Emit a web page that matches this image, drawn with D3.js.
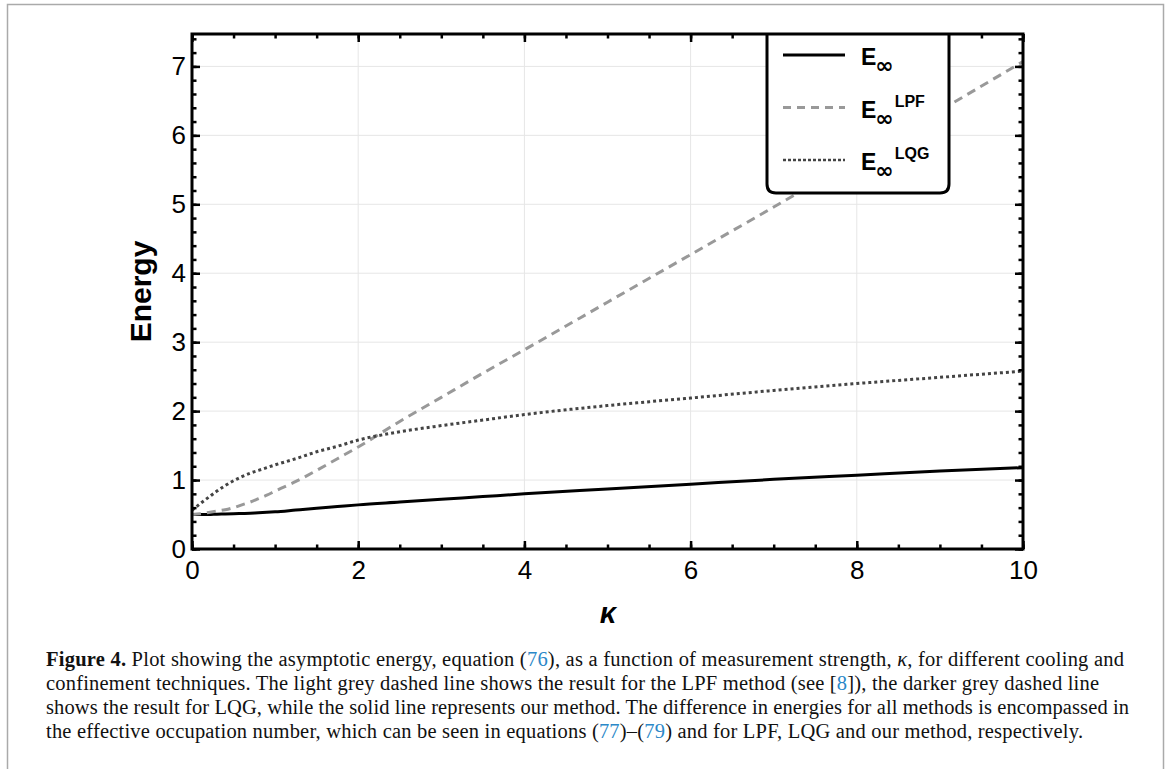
<!DOCTYPE html>
<html>
<head>
<meta charset="utf-8">
<script src="https://cdn.jsdelivr.net/npm/d3@7"></script>
<style>
  body { margin: 0; background: #fff; }
  svg { display: block; }
</style>
</head>
<body>
<svg id="chart" width="1170" height="769"></svg>
<script>
// data
let kappa   = [0, 0.1, 0.2, 0.3, 0.4, 0.5, 0.6, 0.7, 0.8, 0.9, 1, 1.25, 1.5, 1.75, 2, 2.5, 3, 3.5, 4, 5, 6, 7, 8, 9, 10]
let eInf    = [0.50, 0.50, 0.50, 0.505, 0.507, 0.51, 0.515, 0.52, 0.527, 0.533, 0.54, 0.565, 0.59, 0.615, 0.64, 0.68, 0.72, 0.76, 0.80, 0.87, 0.94, 1.01, 1.07, 1.13, 1.18]
let eLPF    = [0.50, 0.51, 0.53, 0.55, 0.57, 0.60, 0.64, 0.68, 0.73, 0.78, 0.84, 0.98, 1.14, 1.31, 1.48, 1.85, 2.20, 2.55, 2.89, 3.58, 4.27, 4.96, 5.66, 6.36, 7.07]
let eLQG    = [0.56, 0.66, 0.75, 0.84, 0.92, 0.99, 1.05, 1.10, 1.14, 1.18, 1.22, 1.31, 1.41, 1.49, 1.58, 1.70, 1.79, 1.87, 1.95, 2.08, 2.19, 2.30, 2.40, 2.49, 2.58]
let xTicks  = [0, 2, 4, 6, 8, 10]
let yTicks  = [0, 1, 2, 3, 4, 5, 6, 7]
let legendNames = ['', 'LPF', 'LQG']

// layout
let svg = d3.select('#chart')
let pLeft = 192, pRight = 1023, pTop = 34, pBottom = 549

let x = d3.scaleLinear().domain([0, 10]).range([pLeft, pRight])
let y = d3.scaleLinear().domain([0, 7.47]).range([pBottom, pTop])

// page frame
svg.append('path')
  .attr('d', 'M7.5,769 V4.5 H1163.5 V769')
  .attr('fill', 'none')
  .attr('stroke', '#aaa')
  .attr('stroke-width', 1.5)

// grid
svg.append('g').selectAll('line')
  .data(xTicks.slice(1, -1))
  .join('line')
  .attr('x1', d => x(d)).attr('x2', d => x(d))
  .attr('y1', pTop).attr('y2', pBottom)
  .attr('stroke', '#e6e6e6').attr('stroke-width', 1)

svg.append('g').selectAll('line')
  .data(yTicks.slice(1))
  .join('line')
  .attr('x1', pLeft).attr('x2', pRight)
  .attr('y1', d => y(d)).attr('y2', d => y(d))
  .attr('stroke', '#e6e6e6').attr('stroke-width', 1)

// curves
svg.append('clipPath').attr('id', 'clip')
  .append('rect').attr('x', pLeft).attr('y', pTop)
  .attr('width', pRight - pLeft).attr('height', pBottom - pTop)

let line = d3.line().curve(d3.curveMonotoneX)

let series = [
  {vals: eInf, color: '#000', dash: null},
  {vals: eLPF, color: '#999', dash: '9,6'},
  {vals: eLQG, color: '#444', dash: '3,3'}
]

let plot = svg.append('g').attr('clip-path', 'url(#clip)')
series.forEach(s => {
  plot.append('path')
    .attr('d', line(kappa.map((k, i) => [x(k), y(s.vals[i])])))
    .attr('fill', 'none')
    .attr('stroke', s.color)
    .attr('stroke-width', 3)
    .attr('stroke-dasharray', s.dash)
})

// axes (ticks pointing inward)
function styleAxis(g) {
  g.select('.domain').remove()
  g.selectAll('.tick line').attr('stroke', '#000').attr('stroke-width', 2.5)
  g.selectAll('text').attr('font-family', 'Liberation Sans, Arial, sans-serif')
    .attr('font-size', 26).attr('fill', '#000')
}
let xMinor = d3.range(0, 10.01, 0.5)
let yMinor = d3.range(0, 7.41, 0.2)

svg.append('g').attr('transform', `translate(0,${pBottom})`)
  .call(d3.axisBottom(x).tickValues(xMinor).tickSize(-4.5).tickFormat(''))
  .call(styleAxis)
svg.append('g').attr('transform', `translate(0,${pBottom})`)
  .call(d3.axisBottom(x).tickValues(xTicks).tickSize(-8).tickPadding(12).tickFormat(d3.format('d')))
  .call(styleAxis)
svg.append('g').attr('transform', `translate(0,${pTop})`)
  .call(d3.axisTop(x).tickValues(xMinor).tickSize(-4.5).tickFormat(''))
  .call(styleAxis)
svg.append('g').attr('transform', `translate(0,${pTop})`)
  .call(d3.axisTop(x).tickValues(xTicks).tickSize(-8).tickFormat(''))
  .call(styleAxis)

svg.append('g').attr('transform', `translate(${pLeft},0)`)
  .call(d3.axisLeft(y).tickValues(yMinor).tickSize(-4.5).tickFormat(''))
  .call(styleAxis)
svg.append('g').attr('transform', `translate(${pLeft},0)`)
  .call(d3.axisLeft(y).tickValues(yTicks).tickSize(-8).tickPadding(6).tickFormat(d3.format('d')))
  .call(styleAxis)
svg.append('g').attr('transform', `translate(${pRight},0)`)
  .call(d3.axisRight(y).tickValues(yMinor).tickSize(-4.5).tickFormat(''))
  .call(styleAxis)
svg.append('g').attr('transform', `translate(${pRight},0)`)
  .call(d3.axisRight(y).tickValues(yTicks).tickSize(-8).tickFormat(''))
  .call(styleAxis)

// legend box (open at top, sits on the frame)
let lx0 = 767, lx1 = 949, ly1 = 193, r = 9
let legend = svg.append('g')
legend.append('path')
  .attr('d', `M${lx0},${pTop} V${ly1 - r} Q${lx0},${ly1} ${lx0 + r},${ly1} H${lx1 - r} Q${lx1},${ly1} ${lx1},${ly1 - r} V${pTop}`)
  .attr('fill', '#fff')
  .attr('stroke', '#000')
  .attr('stroke-width', 3)

series.forEach((s, i) => {
  let ly = 55 + i * 52.5
  legend.append('line')
    .attr('x1', 783).attr('x2', 845)
    .attr('y1', ly).attr('y2', ly)
    .attr('stroke', s.color)
    .attr('stroke-width', i == 2 ? 2.5 : 3)
    .attr('stroke-dasharray', i == 1 ? '8,6' : (i == 2 ? '3,2' : null))

  let t = legend.append('text')
    .attr('x', 861).attr('y', ly + 10)
    .attr('font-family', 'Liberation Sans, Arial, sans-serif')
    .attr('font-weight', 'bold')
    .attr('font-size', 23)
  t.append('tspan').text('E')
  t.append('tspan').attr('font-family', 'DejaVu Sans, sans-serif').attr('font-size', 22).attr('dy', 8).attr('dx', -1).text('∞')
  if (legendNames[i]) {
    t.append('tspan').attr('font-size', 16).attr('dy', -19).attr('dx', 1).text(legendNames[i])
  }
})

// frame
svg.append('rect')
  .attr('x', pLeft).attr('y', pTop)
  .attr('width', pRight - pLeft).attr('height', pBottom - pTop)
  .attr('fill', 'none')
  .attr('stroke', '#000')
  .attr('stroke-width', 3)

// axis titles
svg.append('text')
  .attr('transform', `translate(151,${(pTop + pBottom) / 2}) rotate(-90)`)
  .attr('text-anchor', 'middle')
  .attr('font-family', 'Liberation Sans, Arial, sans-serif')
  .attr('font-weight', 'bold')
  .attr('font-size', 30)
  .text('Energy')

svg.append('text')
  .attr('x', 608).attr('y', 623)
  .attr('text-anchor', 'middle')
  .attr('font-family', 'Liberation Sans, Arial, sans-serif')
  .attr('font-weight', 'bold')
  .attr('font-style', 'italic')
  .attr('font-size', 29)
  .text('κ')

// caption
let blue = '#2b88c8'
let captionLines = [
  [['Figure 4.', 'b'], [' Plot showing the asymptotic energy, equation ('], ['76', 'l'], ['), as a function of measurement strength, '], ['κ', 'i'], [', for different cooling and']],
  [['confinement techniques. The light grey dashed line shows the result for the LPF method (see ['], ['8', 'l'], [']), the darker grey dashed line']],
  [['shows the result for LQG, while the solid line represents our method. The difference in energies for all methods is encompassed in']],
  [['the effective occupation number, which can be seen in equations ('], ['77', 'l'], [')–('], ['79', 'l'], [') and for LPF, LQG and our method, respectively.']]
]
let captionWidths = [1078, 1053, 1083, 1037]

captionLines.forEach((parts, i) => {
  let t = svg.append('text')
    .attr('x', 46).attr('y', 666 + i * 24)
    .attr('font-family', 'Liberation Serif, Times New Roman, serif')
    .attr('font-size', 20.5)
    .attr('fill', '#111')
    .attr('textLength', captionWidths[i])
    .attr('lengthAdjust', 'spacing')
  parts.forEach(p => {
    let ts = t.append('tspan').text(p[0])
    if (p[1] == 'b') ts.attr('font-weight', 'bold')
    if (p[1] == 'l') ts.attr('fill', blue)
    if (p[1] == 'i') ts.attr('font-style', 'italic')
  })
})
</script>
</body>
</html>
